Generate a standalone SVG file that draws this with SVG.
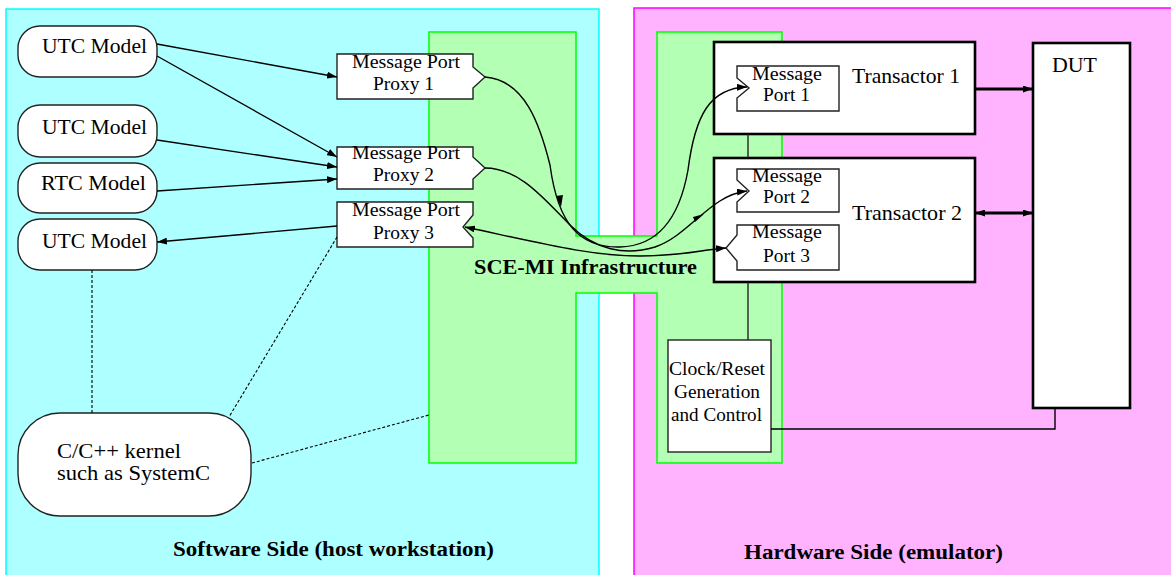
<svg xmlns="http://www.w3.org/2000/svg" width="1171" height="575" viewBox="0 0 1171 575">
<defs>
<marker id="ah" markerUnits="userSpaceOnUse" markerWidth="10" markerHeight="7" refX="10" refY="3.5" orient="auto-start-reverse"><path d="M0,0 L10,3.5 L0,7 z" fill="#000"/></marker>
</defs>
<style>
text{font-family:"Liberation Serif","Times New Roman",serif;fill:#000}
.t21{font-size:21px}
.t18{font-size:18px}
.b{font-weight:bold;font-size:20px}
.box{fill:#fff;stroke:#222;stroke-width:1.4}
.thick{fill:#fff;stroke:#000;stroke-width:2.6}
.con{fill:none;stroke:#000;stroke-width:1.4}
.dash{fill:none;stroke:#000;stroke-width:1.1;stroke-dasharray:3,2}
</style>
<rect width="1171" height="575" fill="#fff"/>
<g id="software-side">
<rect x="6" y="9" width="593" height="580" fill="#aeffff" stroke="#00ffff" stroke-width="1.5"/>
<text class="b" x="173" y="556" textLength="321" lengthAdjust="spacingAndGlyphs">Software Side (host workstation)</text>
</g>
<g id="hardware-side">
<rect x="634" y="8" width="560" height="580" fill="#ffb3ff" stroke="#ff00ff" stroke-width="1.5"/>
<text class="b" x="744" y="559" textLength="259" lengthAdjust="spacingAndGlyphs">Hardware Side (emulator)</text>
</g>
<g id="sce-mi">
<path d="M429,32 H576 V236 H657 V32 H782 V463 H657 V293 H576 V463 H429 Z" fill="#b3ffb3" stroke="#00ff00" stroke-width="1.5"/>
<text class="b" x="474" y="274" textLength="223" lengthAdjust="spacingAndGlyphs">SCE-MI Infrastructure</text>
</g>
<g id="utc1">
<rect class="box" x="18" y="26" width="139" height="51" rx="22" ry="22"/>
<text class="t21" x="42" y="53" textLength="105" lengthAdjust="spacingAndGlyphs">UTC Model</text>
</g>
<g id="utc2">
<rect class="box" x="18" y="105" width="139" height="52" rx="22" ry="22"/>
<text class="t21" x="42" y="134" textLength="105" lengthAdjust="spacingAndGlyphs">UTC Model</text>
</g>
<g id="rtc">
<rect class="box" x="18" y="163" width="139" height="50" rx="22" ry="22"/>
<text class="t21" x="41" y="190" textLength="105" lengthAdjust="spacingAndGlyphs">RTC Model</text>
</g>
<g id="utc3">
<rect class="box" x="18" y="219" width="139" height="51" rx="22" ry="22"/>
<text class="t21" x="42" y="248" textLength="105" lengthAdjust="spacingAndGlyphs">UTC Model</text>
</g>
<g id="kernel">
<rect class="box" x="18" y="413" width="233" height="103" rx="42" ry="42"/>
<text class="t21" x="57" y="458" textLength="124" lengthAdjust="spacingAndGlyphs">C/C++ kernel</text>
<text class="t21" x="57" y="480" textLength="153" lengthAdjust="spacingAndGlyphs">such as SystemC</text>
</g>
<g id="proxy1">
<path class="box" d="M337,54 H473 V67 L485,77 L473,88 V99 H337 Z"/>
<text class="t18" x="352" y="68" textLength="108" lengthAdjust="spacingAndGlyphs">Message Port</text>
<text class="t18" x="373" y="90" textLength="61" lengthAdjust="spacingAndGlyphs">Proxy 1</text>
</g>
<g id="proxy2">
<path class="box" d="M337,147 H473 V157 L485,168 L473,179 V189 H337 Z"/>
<text class="t18" x="352" y="159" textLength="108" lengthAdjust="spacingAndGlyphs">Message Port</text>
<text class="t18" x="373" y="181" textLength="61" lengthAdjust="spacingAndGlyphs">Proxy 2</text>
</g>
<g id="proxy3">
<path class="box" d="M337,202 H473 V215 L463,227 L473,238 V247 H337 Z"/>
<text class="t18" x="352" y="216" textLength="108" lengthAdjust="spacingAndGlyphs">Message Port</text>
<text class="t18" x="373" y="239" textLength="61" lengthAdjust="spacingAndGlyphs">Proxy 3</text>
</g>
<g id="transactor1">
<rect class="thick" x="714" y="42" width="261" height="92"/>
<text class="t21" x="852" y="83" textLength="108" lengthAdjust="spacingAndGlyphs">Transactor 1</text>
</g>
<g id="port1">
<path class="box" d="M737,66 H839 V111 H737 V98 L749,88 L737,78 Z"/>
<text class="t18" x="752" y="80" textLength="70" lengthAdjust="spacingAndGlyphs">Message</text>
<text class="t18" x="763" y="101" textLength="47" lengthAdjust="spacingAndGlyphs">Port 1</text>
</g>
<g id="transactor2">
<rect class="thick" x="714" y="158" width="261" height="124"/>
<text class="t21" x="852" y="220" textLength="110" lengthAdjust="spacingAndGlyphs">Transactor 2</text>
</g>
<g id="port2">
<path class="box" d="M737,169 H839 V212 H737 V202 L749,191 L737,180 Z"/>
<text class="t18" x="752" y="182" textLength="70" lengthAdjust="spacingAndGlyphs">Message</text>
<text class="t18" x="763" y="203" textLength="47" lengthAdjust="spacingAndGlyphs">Port 2</text>
</g>
<g id="port3">
<path class="box" d="M737,225 H839 V270 H737 V261 L726,248 L737,235 Z"/>
<text class="t18" x="752" y="238" textLength="70" lengthAdjust="spacingAndGlyphs">Message</text>
<text class="t18" x="763" y="262" textLength="47" lengthAdjust="spacingAndGlyphs">Port 3</text>
</g>
<g id="dut">
<rect class="thick" x="1033" y="43" width="97" height="365"/>
<text class="t21" x="1052" y="72" textLength="45" lengthAdjust="spacingAndGlyphs">DUT</text>
</g>
<g id="clock">
<rect class="box" x="668" y="340" width="103" height="112"/>
<text class="t18" x="669" y="375" textLength="96" lengthAdjust="spacingAndGlyphs">Clock/Reset</text>
<text class="t18" x="674" y="398" textLength="86" lengthAdjust="spacingAndGlyphs">Generation</text>
<text class="t18" x="671" y="421" textLength="91" lengthAdjust="spacingAndGlyphs">and Control</text>
</g>
<g id="connectors">
<line class="con" x1="157" y1="44" x2="337" y2="77" marker-end="url(#ah)"/>
<line class="con" x1="157" y1="56" x2="337" y2="157" stroke-width="1" marker-end="url(#ah)"/>
<line class="con" x1="157" y1="140" x2="337" y2="167" marker-end="url(#ah)"/>
<line class="con" x1="157" y1="191" x2="337" y2="179" marker-end="url(#ah)"/>
<line class="con" x1="337" y1="226" x2="157" y2="242" marker-end="url(#ah)"/>
<path class="con" d="M485,77 C525,80 540,125 550,165 C558,225 580,248 620,247 C660,246 680,215 688,170 C695,115 710,88 747,87" marker-end="url(#ah)"/>
<path class="con" d="M485,168 C520,168 545,200 570,225 C595,250 625,256 655,247 C690,235 710,195 747,191" marker-end="url(#ah)"/>
<path class="con" d="M465,227 C540,243 590,256 640,256 C680,256 700,250 726,248" marker-start="url(#ah)" marker-end="url(#ah)"/>
<path d="M556,196 L561,207 L563,195 z" fill="#000"/>
<path d="M695,222 L704,214 L693,217 z" fill="#000"/>
<line class="dash" x1="92" y1="270" x2="92" y2="413"/>
<line class="dash" x1="337" y1="237" x2="229" y2="417"/>
<line class="dash" x1="252" y1="463" x2="429" y2="415"/>
<line x1="748" y1="134" x2="748" y2="158" stroke="#222" stroke-width="1.4"/>
<line x1="748" y1="282" x2="748" y2="340" stroke="#222" stroke-width="1.4"/>
<line x1="975" y1="89" x2="1033" y2="89" stroke="#000" stroke-width="3" marker-end="url(#ah)"/>
<line x1="975" y1="213" x2="1033" y2="213" stroke="#000" stroke-width="3" marker-start="url(#ah)" marker-end="url(#ah)"/>
<polyline class="con" points="1055,408 1055,429 771,429"/>
</g>
</svg>
